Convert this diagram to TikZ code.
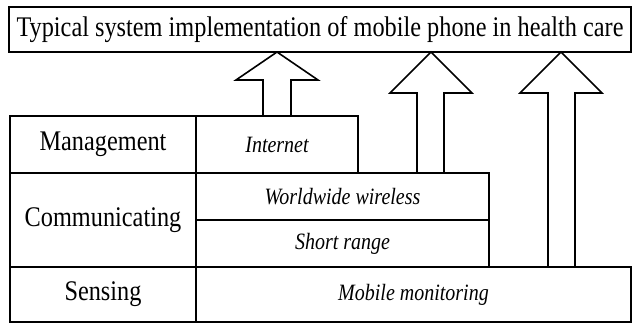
\documentclass[tikz,border=0pt]{standalone}
\usepackage{graphicx}
\usepackage{fontspec}
\setmainfont{Liberation Serif}
\newcommand\tallText[1]{\scalebox{1}[1.17]{#1}}
\begin{document}
\begin{tikzpicture}[x=1pt,y=-1pt,
  cell/.style={draw,line width=1.6pt,inner sep=0pt,outer sep=0pt,anchor=north west},
  head/.style={font=\fontsize{24.3}{28}\selectfont},
  lab/.style={font=\fontsize{24.3}{28}\selectfont},
  tech/.style={font=\fontsize{20}{24}\selectfont\itshape},
  fat/.style={draw,line width=1.6pt,line join=miter}]
\useasboundingbox (0,0) rectangle (632,324);
\node[cell,head,minimum width=622pt,minimum height=45pt] (title) at (9,7) {\tallText{Typical system implementation of mobile phone in health care}};
\node[cell,lab,minimum width=186pt,minimum height=57pt] (mgmt) at (10,116) {\tallText{Management}};
\node[cell,lab,minimum width=186pt,minimum height=94pt] (comm) at (10,173) {\tallText{Communicating}};
\node[cell,lab,minimum width=186pt,minimum height=55pt] (sens) at (10,267) {\tallText{Sensing}};
\node[cell,tech,minimum width=162pt,minimum height=57pt] (internet) at (196,116) {\tallText{Internet}};
\node[cell,tech,minimum width=293pt,minimum height=47pt] (world) at (196,173) {\tallText{Worldwide wireless}};
\node[cell,tech,minimum width=293pt,minimum height=47pt] (short) at (196,220) {\tallText{Short range}};
\node[cell,tech,minimum width=435pt,minimum height=55pt] (mobile) at (196,267) {\tallText{Mobile monitoring}};
% block arrows
\draw[fat] (263,0 |- internet.north) -- (263,80) -- (236,80) -- (277,0 |- title.south)
  -- (318,80) -- (291,80) -- (291,0 |- internet.north);
\draw[fat] (417,0 |- world.north) -- (417,93) -- (390,93) -- (431,0 |- title.south)
  -- (472,93) -- (444,93) -- (444,0 |- world.north);
\draw[fat] (548,0 |- mobile.north) -- (548,93) -- (520,93) -- (561,0 |- title.south)
  -- (602,93) -- (575,93) -- (575,0 |- mobile.north);
\end{tikzpicture}
\end{document}
